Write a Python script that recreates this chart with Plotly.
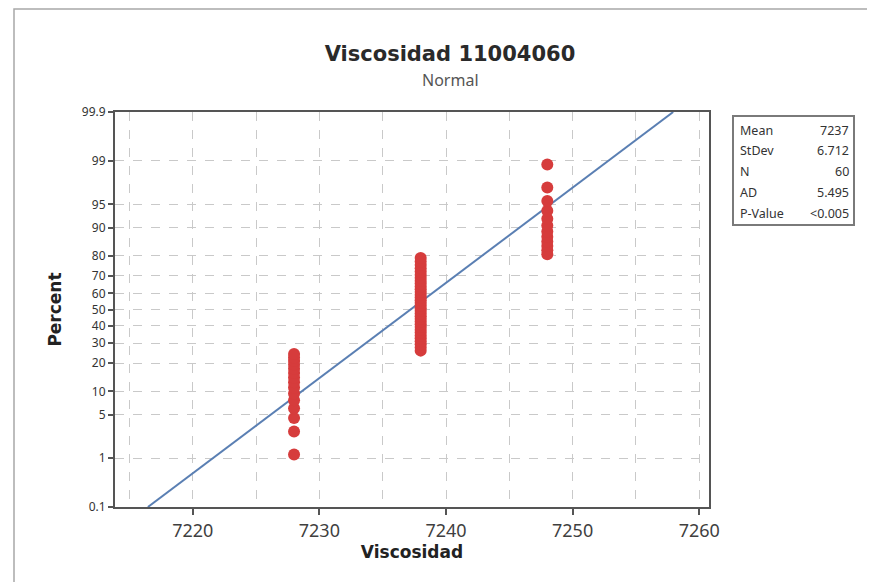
import plotly.graph_objects as go
from statistics import NormalDist

# ---- data ----
VISCOSIDAD = [
    7228, 7228, 7228, 7228, 7228, 7228, 7228, 7228, 7228, 7228,
    7228, 7228, 7228, 7228, 7228,
    7238, 7238, 7238, 7238, 7238, 7238, 7238, 7238, 7238, 7238,
    7238, 7238, 7238, 7238, 7238, 7238, 7238, 7238, 7238, 7238,
    7238, 7238, 7238, 7238, 7238, 7238, 7238, 7238, 7238, 7238,
    7238, 7238, 7238,
    7248, 7248, 7248, 7248, 7248, 7248, 7248, 7248, 7248, 7248,
    7248, 7248,
]
FIT_MEAN = 7237.2
FIT_STDEV = 6.712
STAT_LABELS = ["Mean", "StDev", "N", "AD", "P-Value"]
STAT_VALUES = ["7237", "6.712", "60", "5.495", "<0.005"]
Y_TICK_PCT = [0.1, 1, 5, 10, 20, 30, 40, 50, 60, 70, 80, 90, 95, 99, 99.9]
Y_TICK_TEXT = ["0.1", "1", "5", "10", "20", "30", "40", "50", "60", "70", "80", "90", "95", "99", "99.9"]
X_TICKS = [7220, 7230, 7240, 7250, 7260]
X_GRID = [7215, 7225, 7235, 7245, 7255]
LINE_PCT = [0.1, 99.9]

nd = NormalDist()
def z(p):
    return nd.inv_cdf(p / 100.0)

n = len(VISCOSIDAD)
xs = sorted(VISCOSIDAD)
ys = [z(100.0 * (i + 1 - 0.3) / (n + 0.4)) for i in range(n)]

line_x = [FIT_MEAN + FIT_STDEV * z(p) for p in LINE_PCT]
line_y = [z(p) for p in LINE_PCT]

fig = go.Figure()
fig.add_trace(go.Scatter(x=line_x, y=line_y, mode="lines",
                         line=dict(color="#5a7fb3", width=2), hoverinfo="skip"))
fig.add_trace(go.Scatter(x=xs, y=ys, mode="markers",
                         marker=dict(color="#d63c3c", size=12, line=dict(width=0))))

OFF = 8  # page body margin
W, H = 875 - OFF, 582 - OFF
L, R, T, B = 115 - OFF, 166, 112 - OFF, 75
pw, ph = W - L - R, H - T - B

def px(xp):
    return (xp - OFF - L) / pw
def py(yp):
    return (H - B - (yp - OFF)) / ph

tick_font = dict(family="Noto Sans, Open Sans, sans-serif", size=12, color="#333333")
fig.update_layout(
    width=W, height=H, margin=dict(l=L, r=R, t=T, b=B),
    paper_bgcolor="white", plot_bgcolor="white", showlegend=False,
    title=dict(text="<b>Viscosidad 11004060</b>", x=(450 - OFF) / W, xanchor="center",
               y=1 - (54 - OFF) / H, yanchor="middle",
               font=dict(family="DejaVu Sans", size=21, color="#2a2a2a")),
    xaxis=dict(range=[7213.86, 7260.77], tickvals=X_TICKS, ticktext=[str(v) for v in X_TICKS],
               showgrid=True, gridcolor="#c9c9c9", griddash="dash", gridwidth=1,
               minor=dict(tickvals=X_GRID, showgrid=True, gridcolor="#c9c9c9", griddash="dash", ticks=""),
               showline=True, linecolor="#555555", linewidth=2, mirror=True,
               ticks="outside", ticklen=6, tickcolor="#555555", tickwidth=1.5,
               tickfont=dict(family="Noto Sans, Open Sans, sans-serif", size=18, color="#3f3f3f"),
               zeroline=False,
               title=dict(text="<b>Viscosidad</b>", standoff=4,
                          font=dict(family="DejaVu Sans", size=17, color="#222222"))),
    yaxis=dict(range=[z(0.1), z(99.9)], tickvals=[z(p) for p in Y_TICK_PCT], ticktext=Y_TICK_TEXT,
               showgrid=True, gridcolor="#c9c9c9", griddash="dash", gridwidth=1,
               showline=True, linecolor="#555555", linewidth=2, mirror=True,
               ticks="outside", ticklen=5, tickcolor="#555555", tickwidth=1.5,
               tickfont=tick_font, zeroline=False,
               title=dict(text="<b>Percent</b>", standoff=16,
                          font=dict(family="DejaVu Sans", size=17, color="#222222"))),
)

fig.add_annotation(text="Normal", xref="paper", yref="paper", x=px(450), y=py(80),
                   showarrow=False, xanchor="center", yanchor="middle",
                   font=dict(family="Noto Sans, Open Sans, sans-serif", size=16, color="#555555"))

# outer frame
fig.add_shape(type="rect", xref="paper", yref="paper", x0=px(14), x1=px(872), y0=py(600), y1=py(9),
              line=dict(color="#a8a8a8", width=1.5), layer="below")
# stats box
fig.add_shape(type="rect", xref="paper", yref="paper", x0=px(733), x1=px(854), y0=py(225), y1=py(116),
              line=dict(color="#7a7a7a", width=2))
row_y = [130, 150, 171, 192, 213]
for lab, val, yy in zip(STAT_LABELS, STAT_VALUES, row_y):
    fig.add_annotation(text=lab, xref="paper", yref="paper", x=px(738), y=py(yy), showarrow=False,
                       xanchor="left", yanchor="middle",
                       font=dict(family="Noto Sans, sans-serif", size=12.5, color="#333333"))
    fig.add_annotation(text=val, xref="paper", yref="paper", x=px(851), y=py(yy), showarrow=False,
                       xanchor="right", yanchor="middle",
                       font=dict(family="Noto Sans, sans-serif", size=12.5, color="#333333"))

fig.write_html("out.html")
